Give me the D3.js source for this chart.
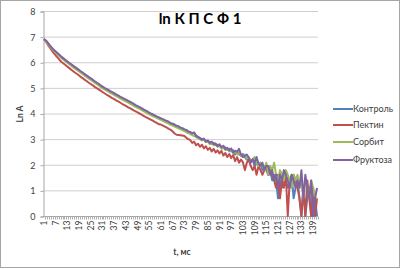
<!DOCTYPE html>
<html>
<head>
<meta charset="utf-8">
<script src="https://cdn.jsdelivr.net/npm/d3@7"></script>
<style>
body { margin: 0; background: #fff; }
text { font-family: "Lato", "Open Sans", "Liberation Sans", sans-serif; }
</style>
</head>
<body>
<script>
// t, мс : categories 1..141
const categories = d3.range(1, 142);
const xTickLabels = [1,7,13,19,25,31,37,43,49,55,61,67,73,79,85,91,97,103,109,115,121,127,133,139];
const yTicks = [0,1,2,3,4,5,6,7,8];
const seriesNames = ["Контроль", "Пектин", "Сорбит", "Фруктоза"];

const kontrol = [
  6.90,6.84,6.75,6.65,6.56,6.48,6.41,6.34,6.27,6.20,
  6.14,6.08,6.02,5.96,5.90,5.85,5.79,5.74,5.68,5.63,
  5.57,5.52,5.46,5.41,5.35,5.30,5.25,5.19,5.14,5.09,
  5.03,4.98,4.94,4.90,4.85,4.81,4.77,4.73,4.68,4.64,
  4.60,4.56,4.52,4.48,4.44,4.40,4.35,4.31,4.27,4.23,
  4.19,4.14,4.10,4.06,4.01,3.97,3.94,3.90,3.86,3.83,
  3.79,3.76,3.72,3.69,3.65,3.61,3.58,3.54,3.50,3.47,
  3.44,3.40,3.37,3.33,3.29,3.26,3.22,3.25,3.14,3.09,
  3.04,3.00,2.97,2.93,2.90,2.88,2.82,2.85,2.76,2.78,
  2.72,2.70,2.64,2.68,2.58,2.62,2.52,2.56,2.40,2.45,
  2.40,2.35,2.42,2.30,2.20,2.26,2.08,2.20,1.95,2.08,
  1.95,2.08,1.79,1.95,1.79,1.61,1.79,1.39,1.61,1.39,
  0.69,1.39,1.10,1.61,1.39,1.10,1.39,1.61,0.69,1.10,
  1.39,0.69,0.00,1.10,0.00,0.69,1.10,0.00,0.00,0.69,0.00
];

const pektin = [
  6.90,6.80,6.68,6.57,6.46,6.36,6.27,6.18,6.09,6.01,
  5.95,5.89,5.83,5.77,5.71,5.65,5.59,5.54,5.48,5.42,
  5.37,5.31,5.26,5.20,5.15,5.10,5.04,4.99,4.94,4.89,
  4.84,4.79,4.74,4.70,4.65,4.60,4.56,4.51,4.47,4.43,
  4.38,4.34,4.30,4.25,4.21,4.17,4.12,4.08,4.04,4.00,
  3.96,3.91,3.87,3.83,3.79,3.75,3.71,3.66,3.62,3.58,
  3.57,3.53,3.49,3.45,3.40,3.36,3.30,3.22,3.17,3.16,
  3.15,3.14,3.12,3.05,3.00,2.96,2.85,2.90,2.76,2.82,
  2.70,2.78,2.64,2.72,2.58,2.66,2.52,2.62,2.48,2.56,
  2.44,2.54,2.36,2.46,2.30,2.42,2.26,2.38,2.14,2.30,
  2.08,2.20,2.10,1.79,2.08,2.20,1.95,1.79,1.95,1.61,
  1.95,1.79,1.61,1.79,1.95,1.61,1.79,1.61,1.39,1.10,
  1.61,0.69,1.39,1.10,1.61,0.00,1.39,1.10,1.61,1.39,
  1.10,0.69,0.00,1.10,0.00,1.39,0.69,0.00,1.10,0.00,0.69
];

const sorbit = [
  6.90,6.82,6.72,6.62,6.53,6.45,6.38,6.30,6.23,6.16,
  6.10,6.04,5.98,5.92,5.86,5.80,5.75,5.69,5.64,5.58,
  5.53,5.47,5.42,5.36,5.31,5.26,5.20,5.15,5.10,5.04,
  4.99,4.94,4.90,4.85,4.81,4.77,4.72,4.68,4.64,4.59,
  4.55,4.51,4.47,4.43,4.39,4.35,4.30,4.26,4.22,4.18,
  4.14,4.09,4.05,4.01,3.97,3.93,3.89,3.86,3.82,3.78,
  3.75,3.71,3.67,3.64,3.60,3.56,3.53,3.49,3.46,3.42,
  3.38,3.35,3.31,3.27,3.24,3.20,3.16,3.12,3.08,3.04,
  3.00,2.95,2.98,2.88,2.92,2.80,2.86,2.76,2.82,2.70,
  2.75,2.62,2.70,2.58,2.64,2.52,2.58,2.46,2.50,2.40,
  2.48,2.36,2.30,2.40,2.25,2.30,2.15,2.20,2.30,2.08,
  1.95,2.08,1.95,1.79,2.08,1.61,1.95,1.79,2.08,1.61,
  1.39,1.79,1.61,1.39,1.79,1.61,1.39,1.10,1.61,1.39,
  1.61,1.10,1.39,0.69,1.39,1.10,0.69,1.39,1.10,0.69,0.69
];

const fruktoza = [
  6.90,6.85,6.76,6.66,6.57,6.49,6.42,6.35,6.28,6.21,
  6.15,6.09,6.03,5.97,5.92,5.86,5.81,5.75,5.70,5.64,
  5.59,5.53,5.48,5.42,5.37,5.32,5.26,5.21,5.16,5.10,
  5.05,5.00,4.96,4.92,4.87,4.83,4.79,4.75,4.71,4.66,
  4.62,4.58,4.54,4.50,4.46,4.42,4.38,4.33,4.29,4.25,
  4.21,4.16,4.12,4.08,4.03,3.99,3.96,3.92,3.88,3.85,
  3.81,3.78,3.74,3.71,3.68,3.62,3.60,3.57,3.52,3.50,
  3.45,3.43,3.38,3.36,3.30,3.28,3.22,3.26,3.12,3.08,
  3.03,2.98,3.02,2.90,2.95,2.85,2.90,2.80,2.83,2.72,
  2.80,2.68,2.74,2.60,2.66,2.56,2.64,2.48,2.55,2.50,
  2.62,2.40,2.30,2.35,2.40,2.28,2.10,2.22,2.08,2.30,
  2.05,1.95,2.08,1.79,1.95,1.95,1.61,1.79,1.39,1.61,
  1.10,1.61,1.39,1.79,1.61,1.39,1.10,1.61,1.39,1.10,
  1.39,1.10,1.79,0.69,1.61,1.10,0.69,1.39,0.00,0.69,1.10
];

const colors = ["#4f81bd", "#c0504d", "#9bbb59", "#8064a2"];

function main(){
    const W = 400, H = 269;
    const left = 43, right = 318, top = 11, bottom = 216;

    const svg = d3.select("body").append("svg")
        .attr("width", W)
        .attr("height", H);

    // chart border
    svg.append("rect")
        .attr("x", 0.5).attr("y", 0.5)
        .attr("width", W - 1).attr("height", H - 2)
        .attr("fill", "#fff")
        .attr("stroke", "#a6a6a6");

    const x = d3.scaleBand()
        .domain(categories)
        .range([left, right]);

    const y = d3.scaleLinear()
        .domain([0, 8])
        .range([bottom, top]);

    // gridlines
    svg.append("g")
        .selectAll("line")
        .data(yTicks.filter(d => d > 0))
        .join("line")
            .attr("x1", left).attr("x2", right)
            .attr("y1", d => y(d) + 0.5).attr("y2", d => y(d) + 0.5)
            .attr("stroke", "#cfcfcf");

    // y axis
    const yAxis = svg.append("g")
        .attr("transform", "translate(" + (left + 0.5) + ",0.5)")
        .call(d3.axisLeft(y).tickValues(yTicks).tickSize(3).tickPadding(5));
    yAxis.select(".domain").attr("stroke", "#a6a6a6");
    yAxis.selectAll(".tick line").attr("stroke", "#a6a6a6");
    yAxis.selectAll("text").attr("font-size", "9px").attr("fill", "#404040");

    // x axis
    const xAxis = svg.append("g")
        .attr("transform", "translate(0," + (bottom + 0.5) + ")");
    xAxis.append("line")
        .attr("x1", left).attr("x2", right)
        .attr("stroke", "#a6a6a6");
    xAxis.selectAll(".tk")
        .data(categories)
        .join("line")
            .attr("class", "tk")
            .attr("x1", d => Math.round(x(d) + x.bandwidth())+0.5)
            .attr("x2", d => Math.round(x(d) + x.bandwidth())+0.5)
            .attr("y1", 0).attr("y2", 3)
            .attr("stroke", "#b0b0b0");
    xAxis.selectAll(".lb")
        .data(xTickLabels)
        .join("text")
            .attr("class", "lb")
            .attr("transform", d => "translate(" + (x(d) + x.bandwidth() / 2 + 3) + ",4) rotate(-90)")
            .attr("text-anchor", "end")
            .attr("font-size", "8.5px")
            .attr("fill", "#404040")
            .text(d => d);

    // lines
    const allSeries = [kontrol, pektin, sorbit, fruktoza];
    const line = d3.line()
        .x((d, i) => x(categories[i]) + x.bandwidth() / 2)
        .y(d => y(d));

    svg.append("g")
        .selectAll("path")
        .data(allSeries)
        .join("path")
            .attr("d", d => line(d))
            .attr("fill", "none")
            .attr("stroke", (d, i) => colors[i])
            .attr("stroke-width", 2)
            .attr("stroke-linejoin", "round");

    // title
    svg.append("text")
        .attr("x", 200).attr("y", 24)
        .attr("text-anchor", "middle")
        .attr("font-size", "15px")
        .attr("font-weight", "bold")
        .text("ln К П С Ф 1");

    // axis titles
    svg.append("text")
        .attr("x", 182).attr("y", 255)
        .attr("text-anchor", "middle")
        .attr("font-size", "8.5px")
        .attr("font-weight", "bold")
        .attr("fill", "#404040")
        .text("t, мс");

    svg.append("text")
        .attr("transform", "translate(23,114) rotate(-90)")
        .attr("text-anchor", "middle")
        .attr("font-size", "8.5px")
        .attr("font-weight", "bold")
        .attr("fill", "#404040")
        .text("Ln A");

    // legend
    const legend = svg.append("g")
        .selectAll("g")
        .data(seriesNames)
        .join("g")
            .attr("transform", (d, i) => "translate(333," + [109, 125, 142, 160][i] + ")");
    legend.append("line")
        .attr("x1", 0).attr("x2", 20)
        .attr("stroke", (d, i) => colors[i])
        .attr("stroke-width", 2);
    legend.append("text")
        .attr("x", 20).attr("y", 3)
        .attr("font-size", "9px")
        .attr("fill", "#404040")
        .text(d => d);
}
main();
</script>
</body>
</html>
